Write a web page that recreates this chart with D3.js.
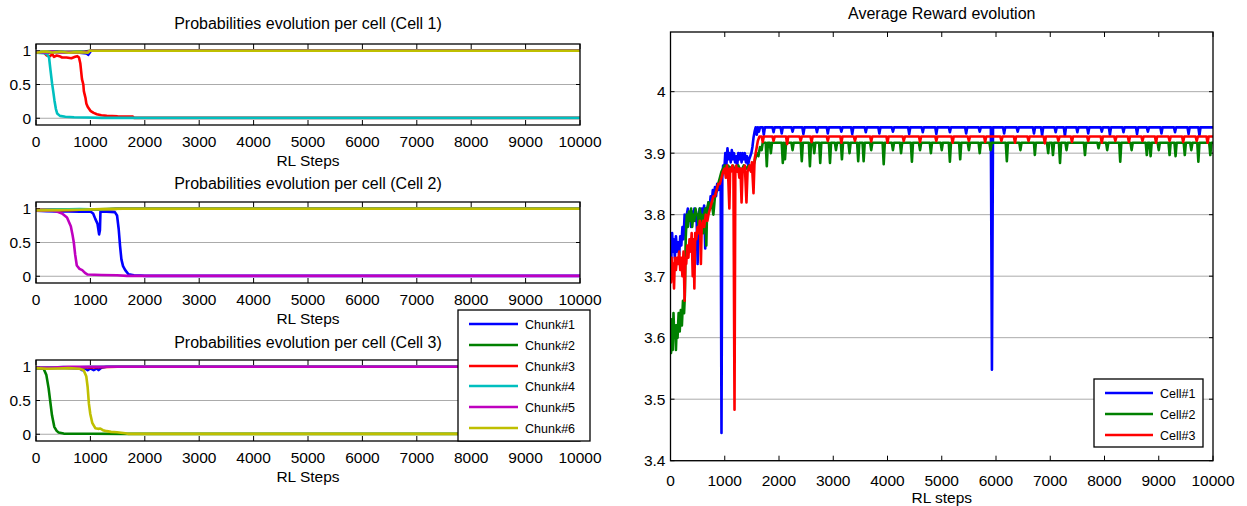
<!DOCTYPE html>
<html>
  <head>
    <meta charset="utf-8">
    <script src="https://cdn.jsdelivr.net/npm/d3@7"></script>
    <style>
      body { margin: 0; background: #fff; }
      text { font-family: 'Liberation Sans', Arial, sans-serif; fill: #000; }
    </style>
  </head>
  <body>
    <script type="text/javascript">
    // ---- data ----
    var stepTicks = [0, 1000, 2000, 3000, 4000, 5000, 6000, 7000, 8000, 9000, 10000];
    var probTicks = [0, 0.5, 1];
    var rewardTicks = [3.4, 3.5, 3.6, 3.7, 3.8, 3.9, 4];

    var chunkNames = ["Chunk#1", "Chunk#2", "Chunk#3", "Chunk#4", "Chunk#5", "Chunk#6"];
    var cellNames = ["Cell#1", "Cell#2", "Cell#3"];
    var cellTitles = ["Probabilities evolution per cell (Cell 1)",
                      "Probabilities evolution per cell (Cell 2)",
                      "Probabilities evolution per cell (Cell 3)"];

    // probabilities per chunk, [step, p]
    var cell1Probs = [
      [[0,0.98],[200,0.97],[400,0.985],[600,0.975],[800,0.97],[930,0.96],[960,0.94],[990,0.975],[1010,1],[10000,1]],
      [[0,0.98],[300,0.985],[600,0.98],[900,0.99],[1000,1],[10000,1]],
      [[0,0.97],[150,0.97],[200,0.93],[260,0.92],[300,0.95],[330,0.91],[380,0.93],[430,0.92],[480,0.9],[560,0.9],[650,0.89],[720,0.91],[760,0.92],[790,0.9],[815,0.81],[845,0.58],[870,0.5],[880,0.4],[895,0.35],[910,0.3],[925,0.22],[950,0.17],[1000,0.11],[1060,0.08],[1120,0.06],[1200,0.045],[1300,0.035],[1500,0.028],[1780,0.025],[1800,0.005],[10000,0.005]],
      [[0,0.97],[150,0.965],[200,0.95],[240,0.9],[265,0.72],[295,0.52],[320,0.38],[340,0.26],[365,0.14],[390,0.07],[440,0.035],[540,0.022],[700,0.015],[950,0.01],[1200,0.005],[10000,0.005]],
      [[0,0.98],[200,0.975],[300,0.99],[440,0.975],[600,0.98],[800,0.975],[950,0.99],[1000,1],[10000,1]],
      [[0,0.97],[150,0.99],[300,0.975],[450,0.985],[600,0.97],[750,0.98],[900,0.975],[950,0.97],[990,1],[10000,1]]
    ];
    var cell2Probs = [
      [[0,0.97],[200,0.965],[400,0.96],[600,0.96],[800,0.955],[1000,0.96],[1050,0.93],[1090,0.85],[1130,0.78],[1160,0.62],[1175,0.68],[1185,0.96],[1300,0.955],[1450,0.95],[1490,0.9],[1520,0.7],[1545,0.45],[1570,0.25],[1600,0.15],[1640,0.09],[1700,0.03],[1800,0.015],[1920,0.01],[2000,0.005],[10000,0.005]],
      [[0,0.98],[500,0.985],[1000,0.99],[1500,1],[10000,1]],
      [[0,0.98],[600,0.98],[900,0.99],[1200,0.985],[1500,1],[10000,1]],
      [[0,0.975],[400,0.99],[800,0.995],[1200,0.99],[1500,1],[10000,1]],
      [[0,0.97],[300,0.97],[384,0.96],[480,0.93],[570,0.87],[640,0.74],[670,0.62],[695,0.5],[720,0.32],[750,0.16],[800,0.11],[850,0.09],[900,0.05],[950,0.025],[1200,0.018],[1490,0.015],[1670,0.005],[10000,0.005]],
      [[0,0.975],[400,0.98],[800,0.985],[1200,0.995],[1600,1],[10000,1]]
    ];
    var cell3Probs = [
      [[0,0.98],[400,0.985],[800,0.975],[850,0.95],[900,0.975],[950,0.95],[1000,0.975],[1060,0.95],[1120,0.975],[1150,0.95],[1200,0.985],[1300,1],[10000,1]],
      [[0,0.98],[100,0.975],[140,0.97],[190,0.88],[232,0.68],[263,0.48],[294,0.28],[336,0.11],[380,0.05],[416,0.025],[510,0.01],[1000,0.008],[1650,0.005],[10000,0.005]],
      [[0,0.98],[500,0.985],[1000,0.99],[1500,1],[10000,1]],
      [[0,0.98],[300,0.99],[500,0.995],[700,0.99],[1000,1],[10000,1]],
      [[0,0.985],[300,0.99],[600,1],[10000,1]],
      [[0,0.98],[200,0.97],[400,0.975],[600,0.98],[800,0.97],[875,0.95],[924,0.86],[949,0.7],[973,0.45],[998,0.3],[1034,0.17],[1090,0.09],[1140,0.08],[1182,0.085],[1230,0.06],[1274,0.05],[1380,0.035],[1488,0.03],[1641,0.015],[1700,0.005],[10000,0.005]]
    ];

    // average reward per cell, [step, reward]
    var cell1Reward = [[0,3.76],[15,3.73],[30,3.77],[45,3.74],[60,3.76],[80,3.73],[100,3.765],[120,3.74],[140,3.755],[160,3.735],[180,3.765],[200,3.75],[220,3.78],[240,3.76],[260,3.8],[280,3.78],[300,3.8],[320,3.81],[340,3.79],[360,3.8],[380,3.78],[400,3.805],[420,3.79],[440,3.81],[460,3.79],[480,3.8],[500,3.72],[515,3.8],[540,3.81],[560,3.79],[580,3.81],[600,3.8],[620,3.815],[640,3.745],[655,3.81],[680,3.8],[700,3.82],[720,3.81],[740,3.83],[760,3.82],[780,3.84],[800,3.83],[820,3.845],[840,3.83],[860,3.85],[880,3.84],[900,3.85],[925,3.845],[940,3.445],[955,3.86],[970,3.88],[990,3.87],[1010,3.9],[1030,3.88],[1050,3.908],[1070,3.89],[1090,3.9],[1110,3.885],[1130,3.905],[1150,3.89],[1170,3.9],[1190,3.885],[1210,3.895],[1230,3.88],[1250,3.9],[1270,3.89],[1290,3.9],[1310,3.885],[1330,3.9],[1350,3.89],[1370,3.9],[1390,3.885],[1410,3.895],[1430,3.88],[1450,3.89],[1470,3.895],[1490,3.9],[1510,3.91],[1530,3.925],[1550,3.935],[1570,3.942],[1590,3.93],[1610,3.942],[1630,3.935],[1650,3.942],[1700,3.942],[1720,3.93],[1740,3.942],[1880,3.942],[1900,3.934],[1920,3.942],[2030,3.942],[2050,3.932],[2070,3.942],[2230,3.942],[2250,3.935],[2270,3.942],[2430,3.942],[2450,3.931],[2470,3.942],[2680,3.942],[2700,3.934],[2720,3.942],[2880,3.942],[2900,3.932],[2920,3.942],[3130,3.942],[3150,3.935],[3170,3.942],[3330,3.942],[3350,3.931],[3370,3.942],[3580,3.942],[3600,3.934],[3620,3.942],[3830,3.942],[3850,3.932],[3870,3.942],[4080,3.942],[4100,3.935],[4120,3.942],[4380,3.942],[4400,3.931],[4420,3.942],[4630,3.942],[4650,3.934],[4670,3.942],[4880,3.942],[4900,3.931],[4920,3.942],[5130,3.942],[5150,3.934],[5170,3.942],[5430,3.942],[5450,3.932],[5470,3.942],[5680,3.942],[5700,3.935],[5720,3.942],[5905,3.942],[5925,3.548],[5945,3.942],[6130,3.942],[6150,3.932],[6170,3.942],[6380,3.942],[6400,3.935],[6420,3.942],[6680,3.942],[6700,3.932],[6720,3.942],[6830,3.942],[6850,3.929],[6870,3.942],[7080,3.942],[7100,3.934],[7120,3.942],[7250,3.942],[7270,3.928],[7290,3.942],[7480,3.942],[7500,3.934],[7520,3.942],[7680,3.942],[7700,3.932],[7720,3.942],[7930,3.942],[7950,3.935],[7970,3.942],[8080,3.942],[8100,3.93],[8120,3.942],[8330,3.942],[8350,3.934],[8370,3.942],[8580,3.942],[8600,3.931],[8620,3.942],[8780,3.942],[8800,3.935],[8820,3.942],[9030,3.942],[9050,3.932],[9070,3.942],[9280,3.942],[9300,3.934],[9320,3.942],[9530,3.942],[9550,3.931],[9570,3.942],[9730,3.942],[9750,3.929],[9770,3.942],[10000,3.942]];

    var cell2Reward = [[0,3.6],[10,3.575],[25,3.63],[40,3.58],[55,3.64],[70,3.6],[85,3.62],[100,3.58],[115,3.62],[130,3.6],[150,3.64],[170,3.61],[190,3.645],[210,3.62],[230,3.66],[250,3.64],[265,3.67],[280,3.76],[300,3.8],[320,3.78],[340,3.805],[360,3.79],[380,3.81],[400,3.78],[420,3.8],[440,3.79],[460,3.81],[480,3.8],[500,3.8],[520,3.78],[540,3.81],[560,3.79],[580,3.8],[600,3.77],[620,3.8],[640,3.81],[660,3.75],[675,3.81],[700,3.82],[730,3.81],[760,3.82],[790,3.8],[820,3.83],[850,3.84],[880,3.85],[910,3.86],[940,3.87],[970,3.875],[1000,3.88],[1030,3.87],[1060,3.88],[1100,3.875],[1150,3.88],[1200,3.87],[1250,3.88],[1300,3.87],[1350,3.88],[1400,3.875],[1450,3.88],[1500,3.87],[1530,3.88],[1560,3.89],[1590,3.9],[1620,3.895],[1650,3.91],[1680,3.905],[1700,3.917],[1755,3.917],[1775,3.879],[1795,3.917],[1830,3.917],[1850,3.9],[1870,3.917],[2050,3.917],[2070,3.884],[2090,3.917],[2110,3.89],[2130,3.917],[2230,3.917],[2250,3.905],[2270,3.917],[2400,3.917],[2420,3.887],[2440,3.917],[2550,3.917],[2570,3.879],[2590,3.917],[2630,3.917],[2650,3.9],[2670,3.917],[2740,3.917],[2760,3.884],[2780,3.917],[2920,3.917],[2940,3.884],[2960,3.917],[3030,3.917],[3050,3.905],[3070,3.917],[3140,3.917],[3160,3.89],[3180,3.917],[3280,3.917],[3300,3.9],[3320,3.917],[3440,3.917],[3460,3.887],[3480,3.917],[3540,3.917],[3560,3.887],[3580,3.917],[3680,3.917],[3700,3.905],[3720,3.917],[3910,3.917],[3930,3.882],[3950,3.917],[4080,3.917],[4100,3.905],[4120,3.917],[4230,3.917],[4250,3.9],[4270,3.917],[4430,3.917],[4450,3.886],[4470,3.917],[4580,3.917],[4600,3.905],[4620,3.917],[4780,3.917],[4800,3.9],[4820,3.917],[4980,3.917],[5000,3.905],[5020,3.917],[5130,3.917],[5150,3.886],[5170,3.917],[5320,3.917],[5340,3.89],[5360,3.917],[5480,3.917],[5500,3.905],[5520,3.917],[5680,3.917],[5700,3.9],[5720,3.917],[5880,3.917],[5900,3.905],[5920,3.917],[6180,3.917],[6200,3.887],[6220,3.917],[6430,3.917],[6450,3.905],[6470,3.917],[6700,3.917],[6716,3.897],[6735,3.917],[6940,3.917],[6962,3.9],[6980,3.917],[7030,3.917],[7050,3.897],[7070,3.917],[7160,3.917],[7180,3.884],[7200,3.917],[7280,3.917],[7300,3.905],[7320,3.917],[7620,3.917],[7640,3.897],[7660,3.917],[7870,3.917],[7890,3.908],[7910,3.917],[8030,3.917],[8050,3.905],[8070,3.917],[8270,3.917],[8290,3.886],[8310,3.917],[8480,3.917],[8500,3.905],[8520,3.917],[8760,3.917],[8780,3.897],[8800,3.917],[8830,3.917],[8850,3.895],[8870,3.917],[8980,3.917],[9000,3.905],[9020,3.917],[9180,3.917],[9200,3.897],[9220,3.917],[9290,3.917],[9310,3.895],[9330,3.917],[9460,3.917],[9480,3.897],[9500,3.917],[9580,3.917],[9600,3.905],[9620,3.917],[9710,3.917],[9730,3.886],[9750,3.917],[9930,3.917],[9950,3.897],[9970,3.917],[10000,3.917]];

    var cell3Reward = [[0,3.72],[10,3.69],[20,3.73],[35,3.7],[50,3.72],[65,3.68],[80,3.73],[100,3.71],[120,3.73],[140,3.72],[160,3.74],[180,3.71],[200,3.73],[220,3.7],[240,3.74],[260,3.66],[275,3.73],[290,3.72],[310,3.75],[330,3.73],[350,3.76],[370,3.74],[390,3.77],[410,3.7],[425,3.76],[440,3.68],[455,3.77],[475,3.76],[500,3.78],[520,3.77],[540,3.79],[560,3.72],[575,3.78],[600,3.79],[620,3.78],[650,3.8],[680,3.79],[700,3.8],[730,3.81],[760,3.82],[790,3.83],[820,3.83],[850,3.84],[880,3.85],[910,3.85],[940,3.86],[970,3.87],[1000,3.875],[1020,3.86],[1040,3.88],[1060,3.87],[1085,3.81],[1100,3.875],[1120,3.87],[1140,3.88],[1160,3.87],[1180,3.483],[1195,3.87],[1210,3.88],[1230,3.87],[1250,3.875],[1270,3.86],[1290,3.875],[1310,3.82],[1330,3.875],[1350,3.87],[1370,3.88],[1400,3.82],[1420,3.87],[1440,3.875],[1460,3.88],[1480,3.87],[1500,3.885],[1530,3.835],[1550,3.89],[1570,3.9],[1590,3.91],[1610,3.92],[1640,3.927],[1680,3.927],[1700,3.918],[1720,3.927],[1880,3.927],[1900,3.92],[1920,3.927],[2130,3.927],[2150,3.915],[2170,3.927],[2380,3.927],[2400,3.92],[2420,3.927],[2580,3.927],[2600,3.918],[2620,3.927],[2880,3.927],[2900,3.92],[2920,3.927],[3130,3.927],[3150,3.917],[3170,3.927],[3380,3.927],[3400,3.92],[3420,3.927],[3680,3.927],[3700,3.919],[3720,3.927],[3980,3.927],[4000,3.917],[4020,3.927],[4280,3.927],[4300,3.92],[4320,3.927],[4580,3.927],[4600,3.918],[4620,3.927],[4880,3.927],[4900,3.92],[4920,3.927],[5180,3.927],[5200,3.917],[5220,3.927],[5480,3.927],[5500,3.92],[5520,3.927],[5780,3.927],[5800,3.918],[5820,3.927],[6080,3.927],[6100,3.92],[6120,3.927],[6330,3.927],[6350,3.917],[6370,3.927],[6580,3.927],[6600,3.92],[6620,3.927],[6880,3.927],[6900,3.916],[6920,3.927],[7130,3.927],[7150,3.92],[7170,3.927],[7380,3.927],[7400,3.918],[7420,3.927],[7680,3.927],[7700,3.92],[7720,3.927],[7930,3.927],[7950,3.917],[7970,3.927],[8180,3.927],[8200,3.92],[8220,3.927],[8430,3.927],[8450,3.918],[8470,3.927],[8680,3.927],[8700,3.92],[8720,3.927],[8930,3.927],[8950,3.917],[8970,3.927],[9180,3.927],[9200,3.92],[9220,3.927],[9430,3.927],[9450,3.918],[9470,3.927],[9680,3.927],[9700,3.92],[9720,3.927],[9880,3.927],[9900,3.917],[9920,3.927],[10000,3.927]];

    // MATLAB default line colours
    var chunkColors = ["#0000ff", "#008000", "#ff0000", "#00bfbf", "#bf00bf", "#bfbf00"];
    var cellColors = ["#0000ff", "#008000", "#ff0000"];

    var svg = d3.select("body").append("svg")
      .attr("width", 1247)
      .attr("height", 506);

    // draws one boxed MATLAB-like axes; returns the scales
    function drawAxes(o) {
      var x = d3.scaleLinear().domain([0, 10000]).range([o.left, o.right]);
      var y = d3.scaleLinear().domain(o.yDomain).range([o.bottom, o.top]);
      var g = svg.append("g");

      // horizontal grid
      g.selectAll(".grid").data(o.yTicks).enter().append("line")
        .attr("x1", o.left).attr("x2", o.right)
        .attr("y1", function(d){ return y(d); }).attr("y2", function(d){ return y(d); })
        .attr("stroke", "#ababab").attr("stroke-width", 1);

      // ticks on all 4 sides, pointing in
      stepTicks.forEach(function(t){
        g.append("line").attr("x1", x(t)).attr("x2", x(t)).attr("y1", o.bottom).attr("y2", o.bottom - o.tick).attr("stroke", "#000");
        g.append("line").attr("x1", x(t)).attr("x2", x(t)).attr("y1", o.top).attr("y2", o.top + o.tick).attr("stroke", "#000");
      });
      o.yTicks.forEach(function(t){
        g.append("line").attr("x1", o.left).attr("x2", o.left + 4).attr("y1", y(t)).attr("y2", y(t)).attr("stroke", "#000");
        g.append("line").attr("x1", o.right).attr("x2", o.right - 4).attr("y1", y(t)).attr("y2", y(t)).attr("stroke", "#000");
      });

      // labels
      g.selectAll(".xl").data(stepTicks).enter().append("text")
        .attr("x", function(d){ return x(d); })
        .attr("y", o.bottom + o.xLabelOff)
        .attr("text-anchor", "middle")
        .style("font-size", "15.5px")
        .text(function(d){ return d; });
      g.selectAll(".yl").data(o.yTicks).enter().append("text")
        .attr("x", o.left - 5)
        .attr("y", function(d){ return y(d) + 5.5; })
        .attr("text-anchor", "end")
        .style("font-size", "15.5px")
        .text(function(d){ return d; });

      g.append("text")
        .attr("x", (o.left + o.right) / 2).attr("y", o.bottom + o.axisTitleOff)
        .attr("text-anchor", "middle").style("font-size", "15.5px")
        .text(o.xTitle);
      g.append("text")
        .attr("x", (o.left + o.right) / 2).attr("y", o.top + o.titleOff)
        .attr("text-anchor", "middle").style("font-size", "16px")
        .text(o.title);

      return {x: x, y: y, g: g};
    }

    function drawLines(ax, o, series, colors, clipId) {
      svg.append("clipPath").attr("id", clipId)
        .append("rect")
        .attr("x", o.left).attr("y", o.top)
        .attr("width", o.right - o.left).attr("height", o.bottom - o.top);
      var line = d3.line()
        .x(function(d){ return ax.x(d[0]); })
        .y(function(d){ return ax.y(d[1]); });
      svg.append("g").attr("clip-path", "url(#" + clipId + ")")
        .selectAll("path").data(series).enter().append("path")
        .attr("d", line)
        .attr("fill", "none")
        .attr("stroke", function(d, i){ return colors[i]; })
        .attr("stroke-width", o.lw)
        .attr("stroke-linejoin", "round");
      // frame on top
      svg.append("rect")
        .attr("x", o.left).attr("y", o.top)
        .attr("width", o.right - o.left).attr("height", o.bottom - o.top)
        .attr("fill", "none").attr("stroke", "#000").attr("stroke-width", 1.3);
    }

    // left column: three probability panels
    var panelTops = [44, 202, 360];
    var cellProbs = [cell1Probs, cell2Probs, cell3Probs];
    var titleOffs = [-15, -13, -12];
    panelTops.forEach(function(top, k){
      var o = {
        left: 36, right: 580, top: top, bottom: top + 81,
        yDomain: [-0.1, 1.1], yTicks: probTicks, tick: 5,
        xLabelOff: 22, axisTitleOff: 41, titleOff: titleOffs[k],
        xTitle: "RL Steps", title: cellTitles[k], lw: 2.6
      };
      var ax = drawAxes(o);
      drawLines(ax, o, cellProbs[k], chunkColors, "clipP" + k);
    });

    // right: average reward
    var oR = {
      left: 670.5, right: 1213, top: 32, bottom: 460.7,
      yDomain: [3.4, 4.097], yTicks: rewardTicks, tick: 5,
      xLabelOff: 25, axisTitleOff: 42, titleOff: -13,
      xTitle: "RL steps", title: "Average Reward evolution", lw: 2.6
    };
    var axR = drawAxes(oR);
    drawLines(axR, oR, [cell1Reward, cell2Reward, cell3Reward], cellColors, "clipR");

    // legends
    function legend(x0, y0, w, h, names, colors, rowY, lineX, textX) {
      var lg = svg.append("g");
      lg.append("rect").attr("x", x0).attr("y", y0).attr("width", w).attr("height", h)
        .attr("fill", "#fff").attr("stroke", "#000").attr("stroke-width", 1.3);
      names.forEach(function(n, i){
        lg.append("line").attr("x1", lineX[0]).attr("x2", lineX[1])
          .attr("y1", rowY[i]).attr("y2", rowY[i])
          .attr("stroke", colors[i]).attr("stroke-width", 2.6);
        lg.append("text").attr("x", textX).attr("y", rowY[i] + 4.5)
          .style("font-size", "12.5px").text(n);
      });
    }
    legend(458, 310, 132, 131, chunkNames, chunkColors,
      [324, 345, 366, 386, 407, 428], [469, 518], 525);
    legend(1094, 379, 109, 68, cellNames, cellColors,
      [393, 414, 435], [1105, 1153], 1160);
    </script>
  </body>
</html>
